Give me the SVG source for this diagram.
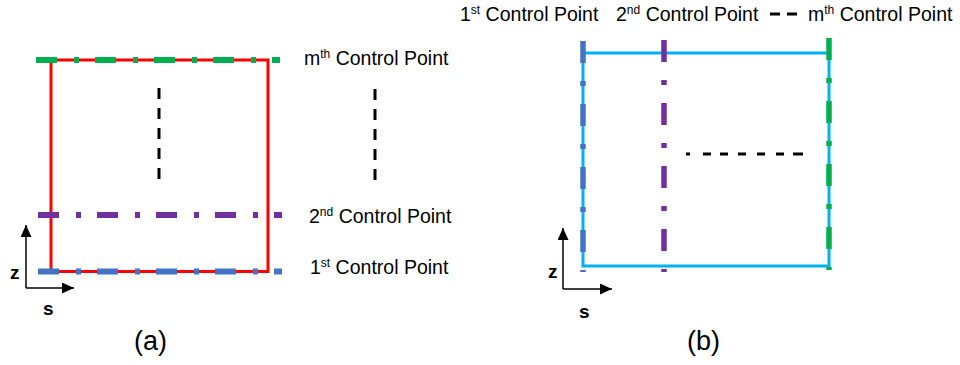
<svg xmlns="http://www.w3.org/2000/svg" width="960" height="365" viewBox="0 0 960 365">
  <defs>
    <marker id="arrow" markerUnits="userSpaceOnUse" markerWidth="12" markerHeight="11" refX="12" refY="5.5" orient="auto">
      <path d="M0,0 L12,5.5 L0,11 Z" fill="#000"/>
    </marker>
    <style>
      .lbl { font-family: "Liberation Sans", Arial, sans-serif; font-size: 19.5px; fill: #000; }
      .sup { font-size: 12px; }
      .axis-lbl { font-family: "Liberation Sans", Arial, sans-serif; font-size: 19px; font-weight: bold; fill: #000; }
      .cap { font-family: "Liberation Sans", Arial, sans-serif; font-size: 27px; fill: #000; }
      .axis { stroke: #000; stroke-width: 1.5; fill: none; marker-end: url(#arrow); }
      .frame-red { stroke: #FF0000; stroke-width: 3; fill: none; }
      .frame-cyan { stroke: #00B0F0; stroke-width: 3; fill: none; }
      .cp-a { stroke-width: 6; fill: none; stroke-dasharray: 21 17 5 16; }
      .cp-b { stroke-width: 5.5; fill: none; stroke-dasharray: 22 18 5 18; }
      .blk-v { stroke: #000; stroke-width: 3; fill: none; stroke-dasharray: 11 9; }
      .blue { stroke: #4472C4; }
      .purple { stroke: #7030A0; }
      .green { stroke: #00B050; }
    </style>
  </defs>

  <!-- (a): control points stacked along z -->
  <g id="panel-a">
    <g id="a-frame">
      <rect class="frame-red" x="51" y="60" width="217" height="211.5"/>
    </g>
    <g id="a-cp-m">
      <line class="cp-a green" x1="36" y1="60" x2="280" y2="60"/>
      <text class="lbl" x="304" y="65">m<tspan class="sup" dy="-7">th</tspan><tspan dy="7"> Control Point</tspan></text>
    </g>
    <g id="a-cp-2">
      <line class="cp-a purple" x1="38" y1="215" x2="282" y2="215"/>
      <text class="lbl" x="309" y="223">2<tspan class="sup" dy="-7">nd</tspan><tspan dy="7"> Control Point</tspan></text>
    </g>
    <g id="a-cp-1">
      <line class="cp-a blue" x1="38" y1="271.5" x2="282" y2="271.5"/>
      <text class="lbl" x="310" y="274">1<tspan class="sup" dy="-7">st</tspan><tspan dy="7"> Control Point</tspan></text>
    </g>
    <g id="a-ellipsis">
      <line class="blk-v" x1="159" y1="88" x2="159" y2="180"/>
      <line class="blk-v" x1="375" y1="89" x2="375" y2="181"/>
    </g>
    <g id="a-axes">
      <line class="axis" x1="26" y1="288" x2="26" y2="225"/>
      <line class="axis" x1="26" y1="288" x2="74" y2="288"/>
      <text class="axis-lbl" x="10" y="279">z</text>
      <text class="axis-lbl" x="43" y="315">s</text>
    </g>
    <text class="cap" x="134" y="350">(a)</text>
  </g>

  <!-- (b): control points spread along s -->
  <g id="panel-b">
    <g id="b-frame">
      <rect class="frame-cyan" x="583" y="53" width="246" height="213"/>
    </g>
    <g id="b-cp-1">
      <line class="cp-b blue" x1="583" y1="41" x2="583" y2="272"/>
      <text class="lbl" x="460" y="21">1<tspan class="sup" dy="-7">st</tspan><tspan dy="7"> Control Point</tspan></text>
    </g>
    <g id="b-cp-2">
      <line class="cp-b purple" x1="664" y1="40" x2="664" y2="272"/>
      <text class="lbl" x="616" y="21">2<tspan class="sup" dy="-7">nd</tspan><tspan dy="7"> Control Point</tspan></text>
    </g>
    <g id="b-cp-m">
      <line class="cp-b green" x1="829" y1="38" x2="829" y2="270"/>
      <text class="lbl" x="808" y="21">m<tspan class="sup" dy="-7">th</tspan><tspan dy="7"> Control Point</tspan></text>
    </g>
    <g id="b-ellipsis">
      <line stroke="#000" stroke-width="3" x1="770" y1="14" x2="797" y2="14" stroke-dasharray="10 7 10"/>
      <line stroke="#000" stroke-width="3" x1="686" y1="154" x2="803" y2="154" stroke-dasharray="4 13 8 9 8 10 8 11 8 11 8 9 10 50"/>
    </g>
    <g id="b-axes">
      <line class="axis" x1="563" y1="289" x2="563" y2="228"/>
      <line class="axis" x1="563" y1="289" x2="612" y2="289"/>
      <text class="axis-lbl" x="548" y="278">z</text>
      <text class="axis-lbl" x="579" y="318">s</text>
    </g>
    <text class="cap" x="687" y="350">(b)</text>
  </g>
</svg>
